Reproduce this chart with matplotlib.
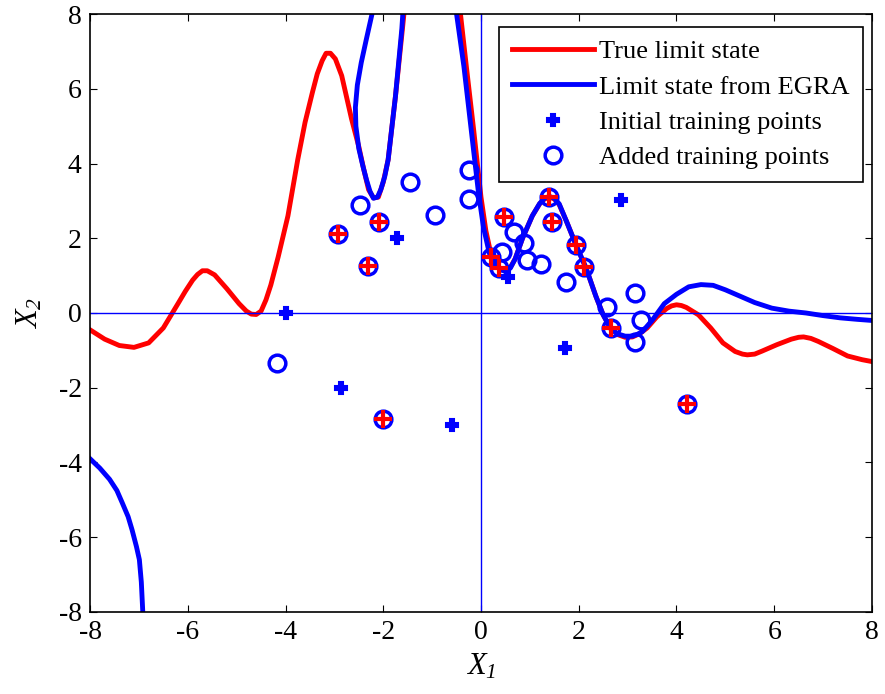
import matplotlib
matplotlib.use('Agg')
import matplotlib.pyplot as plt

plt.rcParams['font.family'] = 'Liberation Serif'
plt.rcParams['mathtext.fontset'] = 'custom'
plt.rcParams['mathtext.rm'] = 'Liberation Serif:italic'
plt.rcParams['mathtext.it'] = 'Liberation Serif:italic'
plt.rcParams['axes.unicode_minus'] = False

# true limit state (red)
true_x = [-8.0, -7.7, -7.4, -7.1, -6.8, -6.5, -6.2, -6.05, -5.9, -5.8, -5.7, -5.6, -5.45,
          -5.2, -4.95, -4.8, -4.7, -4.6, -4.5, -4.4, -4.3, -4.15, -3.95, -3.75, -3.6,
          -3.45, -3.35, -3.25, -3.17, -3.08, -2.98, -2.85, -2.65, -2.5, -2.4, -2.3, -2.2,
          -2.1, -2.0, -1.9, -1.75, -1.6, -1.5, -0.5,
          -0.42, -0.3, -0.15, 0.0, 0.1, 0.2, 0.3, 0.4, 0.5, 0.6, 0.7, 0.85, 1.05, 1.2,
          1.3, 1.4, 1.5, 1.6, 1.75, 1.95, 2.15, 2.35, 2.5, 2.65, 2.8, 2.95, 3.1, 3.25,
          3.4, 3.6, 3.8, 3.9, 4.0, 4.1, 4.2, 4.45, 4.7, 4.95, 5.2, 5.35, 5.45, 5.6, 5.75,
          6.05, 6.35, 6.5, 6.6, 6.75, 6.9, 7.2, 7.5, 7.8, 8.0]
true_y = [-0.45, -0.7, -0.87, -0.92, -0.8, -0.4, 0.25, 0.58, 0.88, 1.03, 1.13, 1.13, 1.02,
          0.65, 0.25, 0.05, -0.03, -0.04, 0.05, 0.35, 0.75, 1.5, 2.6, 4.1, 5.1,
          5.9, 6.4, 6.75, 6.95, 6.95, 6.8, 6.35, 5.2, 4.45, 3.85, 3.3, 3.08,
          3.1, 3.5, 4.1, 5.8, 7.7, 9.0, 9.0,
          8.0, 6.6, 4.9, 3.1, 2.2, 1.6, 1.3, 1.17, 1.15, 1.22, 1.45, 2.0, 2.6, 2.92,
          3.05, 3.1, 3.05, 2.9, 2.45, 1.8, 1.2, 0.45, -0.05, -0.4, -0.58, -0.65, -0.64, -0.55,
          -0.4, -0.1, 0.12, 0.19, 0.22, 0.2, 0.15, -0.05, -0.4, -0.8, -1.03, -1.1, -1.12, -1.1, -1.02,
          -0.85, -0.7, -0.65, -0.64, -0.68, -0.76, -0.95, -1.15, -1.25, -1.3]

# limit state from EGRA (blue), main branch
egra_x = [-2.15, -2.23, -2.35, -2.45, -2.53, -2.57, -2.56, -2.5, -2.42, -2.34, -2.27,
          -2.2, -2.12, -2.05, -1.97, -1.9, -1.75,
          -1.62, -1.55, -0.55, -0.5, -0.35, -0.2, -0.05, 0.05, 0.17, 0.3, 0.4, 0.5, 0.6,
          0.7, 0.85, 1.05, 1.2, 1.3, 1.4, 1.5, 1.6, 1.75, 1.95, 2.15, 2.35, 2.5, 2.65,
          2.8, 2.95, 3.1, 3.2, 3.3, 3.5, 3.75, 4.0, 4.25, 4.5, 4.75, 5.0, 5.3, 5.6, 5.95,
          6.3, 6.65, 7.0, 7.35, 7.7, 8.0]
egra_y = [9.0, 8.0, 7.3, 6.7, 6.1, 5.5, 5.0, 4.4, 3.95, 3.55, 3.25,
          3.07, 3.1, 3.3, 3.65, 4.1, 5.8,
          7.6, 9.0, 9.0, 8.0, 6.6, 4.9, 3.2, 2.3, 1.6, 1.28, 1.15, 1.12, 1.2,
          1.45, 2.0, 2.6, 2.93, 3.07, 3.12, 3.07, 2.92, 2.45, 1.8, 1.2, 0.45, -0.05, -0.42,
          -0.56, -0.62, -0.62, -0.57, -0.5, -0.2, 0.25, 0.5, 0.7, 0.76, 0.74, 0.62, 0.45, 0.28, 0.13,
          0.05, 0.0, -0.07, -0.13, -0.17, -0.2]

# EGRA branch in the lower left corner
corner_x = [-8.0, -7.8, -7.6, -7.45, -7.34, -7.22, -7.14, -7.05, -6.99, -6.95, -6.92]
corner_y = [-3.9, -4.15, -4.45, -4.75, -5.08, -5.45, -5.8, -6.25, -6.6, -7.2, -8.0]

init_x = [-4.0, -1.72, -2.86, -0.59, 0.55, 2.86, 1.72]
init_y = [0.0, 2.0, -2.0, -3.0, 0.97, 3.02, -0.94]

# red crosses (all sit inside added points)
cross_x = [-2.92, -2.09, -2.31, -2.0, 4.21, 2.66, 0.47, 0.2, 0.37, 1.39, 1.45, 1.94, 2.1]
cross_y = [2.11, 2.44, 1.26, -2.83, -2.43, -0.4, 2.57, 1.5, 1.2, 3.1, 2.43, 1.82, 1.24]

added_x = [-4.17, -2.47, -1.45, -0.94, -0.25, -0.25, 0.67, 0.87, 0.94, 1.23, 0.43,
           1.74, 2.57, 3.16, 3.27, 3.16] + cross_x
added_y = [-1.34, 2.9, 3.5, 2.63, 3.82, 3.05, 2.17, 1.87, 1.42, 1.32, 1.62,
           0.83, 0.15, 0.53, -0.19, -0.77] + cross_y

fig = plt.figure(figsize=(8.85, 6.94), dpi=100)
ax = fig.add_axes([0.1017, 0.1182, 0.8836, 0.8616])

ax.plot(true_x, true_y, color='#ff0000', lw=3.5, label='True limit state')
ax.plot(egra_x, egra_y, color='#0000ff', lw=3.5, label='Limit state from EGRA')
ax.plot(corner_x, corner_y, color='#0000ff', lw=3.5)
ax.axhline(0, color='#0000ff', lw=1)
ax.axvline(0, color='#0000ff', lw=1)
ax.plot(init_x, init_y, 'P', color='#0000ff', mec='#0000ff', ms=9, mew=1.5, ls='none',
        label='Initial training points')
ax.plot(added_x, added_y, 'o', mfc='none', mec='#0000ff', ms=12, mew=2.5, ls='none',
        label='Added training points')
ax.plot(cross_x, cross_y, '+', color='#ff0000', ms=13, mew=3, ls='none')

ax.set_xlim(-8, 8)
ax.set_ylim(-8, 8)
ax.set_xticks(range(-8, 9, 2))
ax.set_yticks(range(-8, 9, 2))
ax.tick_params(direction='in', top=True, right=True, length=5, labelsize=20, pad=6)
for s in ax.spines.values():
    s.set_linewidth(1.2)

ax.set_xlabel(r'$X_1$', fontsize=22, labelpad=5)
ax.set_ylabel(r'$X_2$', fontsize=22, labelpad=10)

leg = ax.legend(loc='upper right', bbox_to_anchor=(0.988, 0.979), fontsize=19,
                fancybox=False, edgecolor='black', framealpha=1, handlelength=3.1,
                handletextpad=0.2, labelspacing=0.45, borderpad=0.5, borderaxespad=0)
leg.get_frame().set_linewidth(1.2)

fig.savefig('out.png', dpi=100)
